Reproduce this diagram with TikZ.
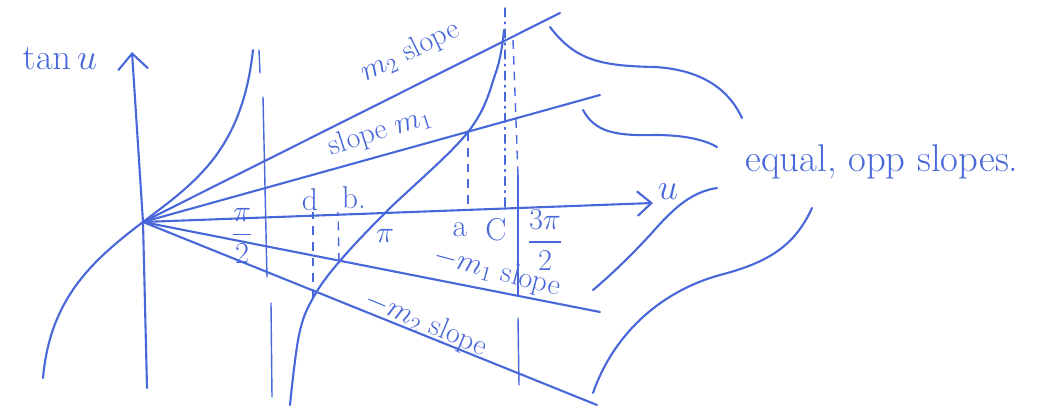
\documentclass[tikz,border=0pt]{standalone}
\usepackage{amsmath}
\usetikzlibrary{arrows.meta}
\definecolor{pen}{RGB}{72,104,218}

\begin{document}
\begin{tikzpicture}[x=0.02cm, y=-0.02cm,
	ink/.style={draw=pen, line width=1.2pt, line cap=round, line join=round},
	fine/.style={draw=pen, line width=0.8pt, line cap=round},
	guide/.style={draw=pen, line width=0.8pt, dash pattern={on 5pt off 4pt}},
	note/.style={text=pen, font=\fontsize{17}{20}\selectfont, inner sep=0pt},
	tick/.style={text=pen, font=\fontsize{18}{21}\selectfont, inner sep=0pt}]
	\useasboundingbox (0,0) rectangle (1045,416);
	% Origin, ends of the lines and crossing points:
	\coordinate (O) at (143,222);
	\coordinate (m2end) at (560,13);
	\coordinate (m1end) at (600,95);
	\coordinate (uend) at (653,203);
	\coordinate (nm1end) at (600,312);
	\coordinate (nm2end) at (597,405);
	\coordinate (pa) at (468,132);
	\coordinate (pa0) at (468,210);
	\coordinate (pc) at (505,8);
	\coordinate (pc0) at (505,208);
	\coordinate (pb) at (339,262);
	\coordinate (pb0) at (338,212);
	\coordinate (pd) at (313,298);
	\coordinate (pd0) at (313,212);
	% Axes:
	\draw[ink, -{Straight Barb[length=9pt, width=17pt]}] (147,388) -- (O) -- (132,52);
	\draw[ink, -{Straight Barb[length=8pt, width=14pt]}] (O) -- (uend);
	% Lines through the origin:
	\draw[ink] (O) -- (m2end);
	\draw[ink] (O) -- (m1end);
	\draw[ink] (O) -- (nm1end);
	\draw[ink] (O) -- (nm2end);
	% Branches of tan u:
	\draw[ink] (43,378) .. controls (50,300) and (90,262) .. (O) .. controls (196,182) and (242,150) .. (253,50);
	\draw[ink] plot[smooth, tension=0.6] coordinates {(290,405) (299,335) (pd) (pb) (385,213) (pa) (496,72) (504,30)};
	% Asymptotes:
	\draw[fine] (259,50) -- (260,73);
	\draw[fine] (263,97) -- (267,277);
	\draw[fine] (271,303) -- (272,397);
	\draw[guide] (513,40) -- (518,175);
	\draw[fine] (518,175) -- (518,295);
	\draw[fine] (518,318) -- (519,385);
	% Drop lines:
	\draw[guide] (pa) -- (pa0);
	\draw[fine, dash pattern={on 5pt off 3pt on 1pt off 3pt}] (pc) -- (pc0);
	\draw[guide] (pb) -- (pb0);
	\draw[guide] (pd) -- (pd0);
	% Braces:
	\draw[ink] (550,27) .. controls (575,60) and (600,66) .. (655,67) .. controls (705,70) and (730,92) .. (742,118);
	\draw[ink] (583,110) .. controls (595,132) and (615,136) .. (655,135) .. controls (685,135) and (705,140) .. (717,147);
	\draw[ink] (717,188) .. controls (690,192) and (672,210) .. (650,235) .. controls (625,262) and (605,280) .. (593,290);
	\draw[ink] (812,208) .. controls (795,245) and (770,262) .. (720,275) .. controls (665,290) and (615,330) .. (593,393);
	% Labels:
	\node[tick, font=\fontsize{22}{26}\selectfont] (tanlbl) at (60,58) {$\tan u$};
	\node[tick, font=\fontsize{20}{24}\selectfont] (ulbl) at (668,192) {$u$};
	\node[note, rotate=26] (m2lbl) at (410,52) {$m_2$ slope};
	\node[note, rotate=18] (m1lbl) at (380,132) {slope $m_1$};
	\node[note, rotate=-15] (nm1lbl) at (497,272) {$-m_1$ slope};
	\node[note, rotate=-23] (nm2lbl) at (426,324) {$-m_2$ slope};
	\node[tick] (dlbl) at (310,200) {d};
	\node[tick] (blbl) at (354,198) {b.};
	\node[tick] (pilbl) at (385,236) {$\pi$};
	\node[tick] (albl) at (460,230) {a};
	\node[tick] (clbl) at (496,230) {C};
	\node[tick, font=\fontsize{16}{19}\selectfont] (halfpi) at (242,236) {$\dfrac{\pi}{2}$};
	\node[tick, font=\fontsize{16}{19}\selectfont] (threehalfpi) at (545,240) {$\dfrac{3\pi}{2}$};
	\node[tick, font=\fontsize{22}{26}\selectfont] (eqlbl) at (882,162) {equal, opp slopes.};
\end{tikzpicture}
\end{document}
